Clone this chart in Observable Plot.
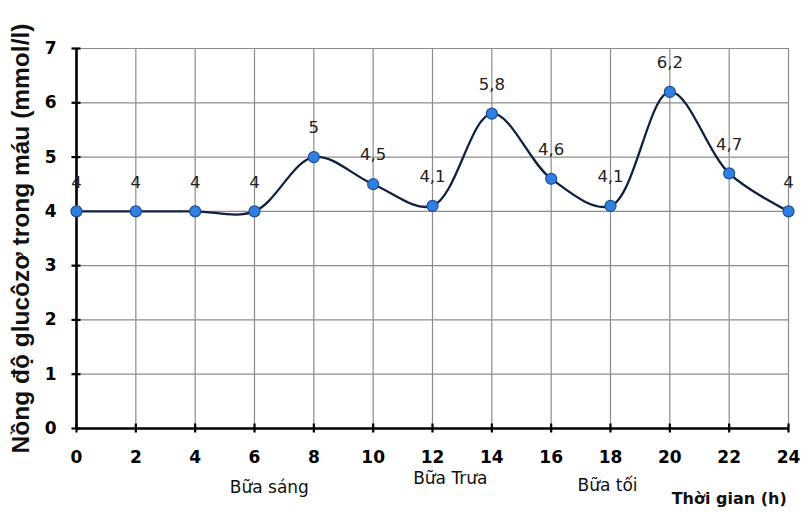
<!DOCTYPE html>
<html>
<head>
<meta charset="utf-8">
<script src="https://cdn.jsdelivr.net/npm/d3@7"></script>
<script src="https://cdn.jsdelivr.net/npm/@observablehq/plot@0.6"></script>
<style>
  html, body { margin: 0; padding: 0; background: #fff; }
</style>
</head>
<body>
<div id="chart"></div>
<script>
// ---- data ----
const hours = [0, 2, 4, 6, 8, 10, 12, 14, 16, 18, 20, 22, 24];
const glucose = [4, 4, 4, 4, 5, 4.5, 4.1, 5.8, 4.6, 4.1, 6.2, 4.7, 4];
const xTicks = [0, 2, 4, 6, 8, 10, 12, 14, 16, 18, 20, 22, 24];
const yTicks = [0, 1, 2, 3, 4, 5, 6, 7];
const mealLabels = ["Bữa sáng", "Bữa Trưa", "Bữa tối"];
const mealHours = [6.5, 12.6, 17.9];
const yLabel = "Nồng độ glucôzơ trong máu (mmol/l)";
const xLabel = "Thời gian (h)";
const xLabelHour = 22;

const data = hours.map((h, i) => ({hour: h, value: glucose[i]}));
const fmt = v => String(v).replace(".", ",");

const meal = (i, dy) => Plot.text([mealLabels[i]], {
  x: [mealHours[i]], text: d => d, frameAnchor: "bottom", dy,
  fontSize: 17, fill: "#111", fontFamily: "DejaVu Sans"
});

const chart = Plot.plot({
  width: 801,
  height: 514,
  marginLeft: 76,
  marginRight: 13,
  marginTop: 48,
  marginBottom: 86,
  style: {fontFamily: "DejaVu Sans", background: "#fff"},
  x: {domain: [0, 24]},
  y: {domain: [0, 7]},
  marks: [
    Plot.gridX(xTicks, {stroke: "#8c8c8c", strokeOpacity: 1, strokeWidth: 1.2}),
    Plot.gridY(yTicks, {stroke: "#8c8c8c", strokeOpacity: 1, strokeWidth: 1.2}),
    // axis lines
    Plot.ruleY([0], {stroke: "#000", strokeWidth: 2.6}),
    Plot.ruleX([0], {stroke: "#000", strokeWidth: 2.6}),
    // crossing ticks
    Plot.axisX({ticks: xTicks, tickSize: 9, dy: -4.5, tickFormat: () => "", stroke: "#000", strokeWidth: 2.2, label: null}),
    Plot.axisY({ticks: yTicks, tickSize: 9, dx: 4.5, tickFormat: () => "", stroke: "#000", strokeWidth: 2.2, label: null}),
    // tick labels
    Plot.axisX({ticks: xTicks, tickSize: 0, tickPadding: 22, tickFormat: d => String(d), fontSize: 17, fontWeight: "bold", fill: "#000", label: null}),
    Plot.axisY({ticks: yTicks, tickSize: 0, tickPadding: 20, tickFormat: d => String(d), fontSize: 17, fontWeight: "bold", fill: "#000", label: null}),
    // y label
    Plot.text([yLabel], {text: d => d, frameAnchor: "left", rotate: -90, dx: -55, textAnchor: "middle",
      fontSize: 24.5, fontWeight: "bold", fill: "#111", fontFamily: "Liberation Sans"}),
    // meal labels
    meal(0, 64),
    meal(1, 55),
    meal(2, 62),
    Plot.text([xLabel], {x: [xLabelHour], text: d => d, frameAnchor: "bottom", dy: 75,
      fontSize: 16, fontWeight: "bold", fill: "#111"}),
    // line + points
    Plot.line(data, {x: "hour", y: "value", curve: "catmull-rom", stroke: "#10213f", strokeWidth: 2.3}),
    Plot.dot(data, {x: "hour", y: "value", r: 5.5, fill: "#2f80e0", stroke: "#1b4f9c", strokeWidth: 1.2}),
    Plot.text(data, {x: "hour", y: "value", text: d => fmt(d.value), dy: -29,
      fontSize: 16.5, fill: "#222"})
  ]
});
document.getElementById("chart").appendChild(chart);
</script>
</body>
</html>
